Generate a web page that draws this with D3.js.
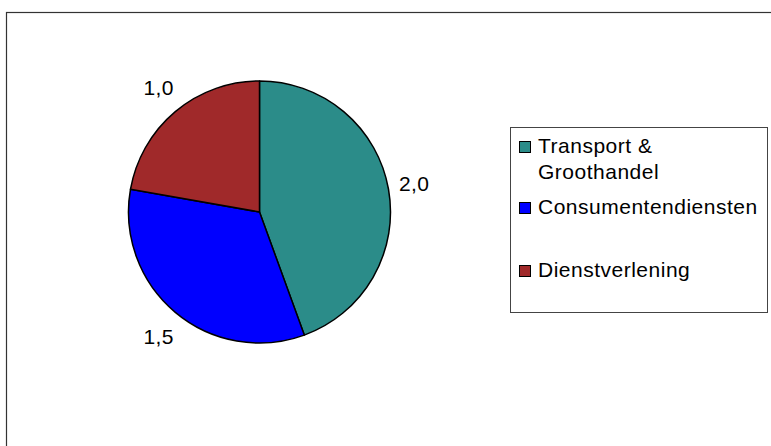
<!DOCTYPE html>
<html>
<head>
<meta charset="utf-8">
<script src="https://cdn.jsdelivr.net/npm/d3@7"></script>
<style>
  html, body { margin: 0; padding: 0; background: #fff; }
  svg { display: block; font-family: "Liberation Sans", Arial, sans-serif; }
</style>
</head>
<body>
<script>
// chart data
const categories = ["Transport & Groothandel", "Consumentendiensten", "Dienstverlening"];
const values = [2.0, 1.5, 1.0];
const colors = ["#2B8C89", "#0000FF", "#A0292A"];

const width = 771,
  height = 446;

const nl = d3.formatLocale({ decimal: ",", thousands: ".", grouping: [3], currency: ["€", ""] });
const fmt = nl.format(".1f");

const svg = d3.select("body").append("svg")
  .attr("width", width)
  .attr("height", height);

// outer frame (runs off the right and bottom edge)
svg.append("rect")
  .attr("x", 6.5).attr("y", 12.5)
  .attr("width", 820).attr("height", 500)
  .attr("fill", "#fff")
  .attr("stroke", "#333")
  .attr("stroke-width", 1.2);

const cx = 259.5, cy = 212, r = 131;

const pie = d3.pie().sort(null).value(d => d);
const arcs = pie(values);
const arc = d3.arc().innerRadius(0).outerRadius(r);

const g = svg.append("g").attr("transform", `translate(${cx},${cy})`);

g.selectAll("path")
  .data(arcs)
  .join("path")
  .attr("d", arc)
  .attr("fill", (d, i) => colors[i])
  .attr("stroke", "#000")
  .attr("stroke-width", 1.5)
  .attr("stroke-linejoin", "round");

// value labels outside the pie
const labRx = 157, labRy = 162;
g.selectAll("text.lab")
  .data(arcs)
  .join("text")
  .attr("class", "lab")
  .attr("x", d => Math.sin((d.startAngle + d.endAngle) / 2) * labRx)
  .attr("y", d => -Math.cos((d.startAngle + d.endAngle) / 2) * labRy)
  .attr("text-anchor", "middle")
  .attr("dy", "0.36em")
  .attr("font-size", 21)
  .attr("letter-spacing", 0.4)
  .attr("fill", "#000")
  .text(d => fmt(d.data));

// legend
const legX = 510.5, legY = 127.5, legW = 257, legH = 185;
svg.append("rect")
  .attr("x", legX).attr("y", legY)
  .attr("width", legW).attr("height", legH)
  .attr("fill", "#fff")
  .attr("stroke", "#444")
  .attr("stroke-width", 1);

const rowBase = [153, 214, 277];
const lineH = 26;
const textX = 538;
const maxW = legX + legW - textX - 4;

const items = svg.append("g").selectAll("g")
  .data(categories)
  .join("g");

items.append("rect")
  .attr("x", 519.5)
  .attr("y", (d, i) => rowBase[i] - 11.5)
  .attr("width", 11)
  .attr("height", 11)
  .attr("fill", (d, i) => colors[i])
  .attr("stroke", "#000")
  .attr("stroke-width", 1);

items.append("text")
  .attr("x", textX)
  .attr("y", (d, i) => rowBase[i])
  .attr("font-size", 21)
  .attr("letter-spacing", 0.5)
  .attr("fill", "#000")
  .each(function (d) {
    // simple word wrap
    const t = d3.select(this);
    const words = d.split(" ");
    let line = [];
    let tspan = t.append("tspan").attr("x", textX);
    words.forEach(w => {
      line.push(w);
      tspan.text(line.join(" "));
      if (tspan.node().getComputedTextLength() > maxW && line.length > 1) {
        line.pop();
        tspan.text(line.join(" "));
        line = [w];
        tspan = t.append("tspan").attr("x", textX).attr("dy", lineH).text(w);
      }
    });
  });
</script>
</body>
</html>
